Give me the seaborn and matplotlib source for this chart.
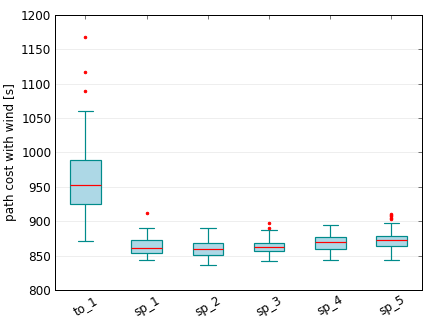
import pandas as pd
import seaborn as sns
import matplotlib.pyplot as plt

# Box statistics
groups = ["to_1", "sp_1", "sp_2", "sp_3", "sp_4", "sp_5"]
whis_lo = [871, 844, 836, 842, 844, 844]
q1 = [925, 854, 851, 856, 860, 864]
median = [952, 861, 860, 863, 870, 872]
q3 = [989, 873, 868, 869, 877, 878]
whis_hi = [1060, 890, 890, 887, 894, 898]
fliers = [
    [1089, 1117, 1168],
    [912],
    [],
    [890, 898],
    [],
    [903, 905, 907, 909, 910],
]


# Build a sample per group whose quartiles / whiskers equal the values above
def build_sample(lo, a, med, b, hi, out):
    m = len(out) + 1
    return [lo] + [a] * (m - 1) + [a] + [med] * m + [b] * m + [hi] + list(out)


rows = []
for i, g in enumerate(groups):
    for v in build_sample(whis_lo[i], q1[i], median[i], q3[i], whis_hi[i], fliers[i]):
        rows.append({"group": g, "cost": v})
df = pd.DataFrame(rows)

sns.set_style("white")
plt.rcParams["font.family"] = ["DejaVu Sans"]
plt.rcParams["text.color"] = "black"
plt.rcParams["axes.labelcolor"] = "black"
plt.rcParams["xtick.color"] = "black"
plt.rcParams["ytick.color"] = "black"

fig = plt.figure(figsize=(6, 4.5), dpi=72)
ax = fig.add_axes([0.127, 0.105, 0.85, 0.849])

sns.boxplot(data=df, x="group", y="cost", order=groups, ax=ax,
            width=0.5, color="lightblue", saturation=1,
            linecolor="darkcyan", linewidth=1.2,
            medianprops={"color": "red", "linewidth": 1.2},
            flierprops={"marker": ".", "markerfacecolor": "red",
                        "markeredgecolor": "red", "markersize": 5})

ax.set_ylim(800, 1200)
ax.set_xlim(-0.5, 5.5)
ax.yaxis.grid(True, color="#eeeeee", linewidth=1)
ax.set_axisbelow(True)
ax.set_xlabel("")
ax.set_ylabel("path cost with wind [s]", fontsize=12)
for s in ax.spines.values():
    s.set_color("black")
    s.set_linewidth(1)
ax.tick_params(direction="in", top=True, right=True, length=4,
               labelsize=12, color="#555555")
plt.xticks(rotation=30)

plt.savefig("out.png", dpi=72)
